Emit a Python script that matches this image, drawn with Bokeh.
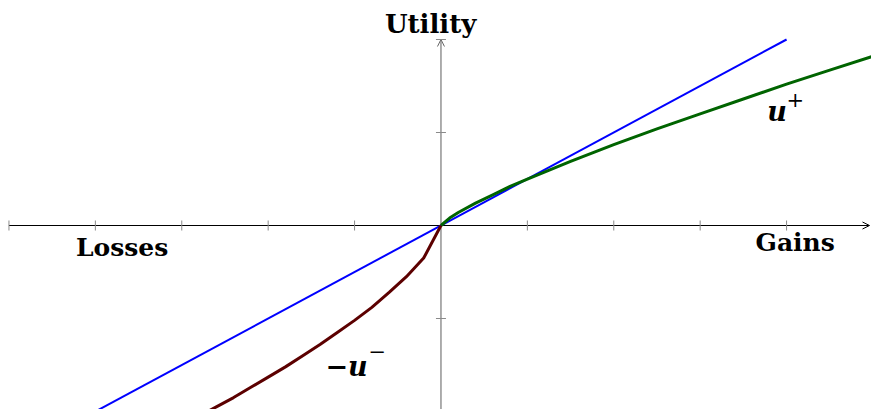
import numpy as np
from bokeh.plotting import figure
from bokeh.models import Range1d, Arrow, OpenHead
from bokeh.core.properties import value
from bokeh.embed import file_html
from bokeh.resources import INLINE

# ---- data ----
x_ticks = [-5, -4, -3, -2, -1, 1, 2, 3, 4]
y_ticks = [-2, -1, 1, 2]

gain_x = [0, 0.1, 0.2, 0.4, 0.6, 0.8, 1.0, 1.5, 2.0, 2.5, 3.0, 3.5, 4.0, 4.5, 5.0]
gain_u = [0, 0.08, 0.14, 0.24, 0.33, 0.42, 0.50, 0.69, 0.87, 1.04, 1.20, 1.36, 1.52, 1.67, 1.82]

loss_x = [-2.8, -2.6, -2.4, -2.2, -2.0, -1.8, -1.6, -1.4, -1.2, -1.0, -0.8, -0.6, -0.4, -0.2, 0]
loss_u = [-2.05, -1.95, -1.85, -1.74, -1.63, -1.52, -1.40, -1.28, -1.15, -1.02, -0.88, -0.72, -0.55, -0.35, 0]

ref_x = [-4, 4]
ref_y = [-2, 2]

axis_labels = ["Utility", "Losses", "Gains"]

FONT = value("DejaVu Serif")

p = figure(width=871, height=409,
           x_range=Range1d(-5.098, 4.983), y_range=Range1d(-1.9784, 2.4194),
           output_backend="svg", toolbar_location=None,
           x_axis_location=None, y_axis_location=None,
           min_border=0)
p.outline_line_color = None
p.grid.grid_line_color = None
p.background_fill_color = "white"

# axes
p.add_layout(Arrow(end=OpenHead(size=7, line_color="black", line_width=1),
                   x_start=-5.0, y_start=0, x_end=4.96, y_end=0,
                   line_color="black", line_width=1.1, level="underlay"))
p.add_layout(Arrow(end=OpenHead(size=7, line_color="#666666", line_width=1),
                   x_start=0, y_start=-2.0, x_end=0, y_end=2.0,
                   line_color="#777777", line_width=1.2, level="underlay"))

# ticks
p.scatter(x_ticks, [0] * len(x_ticks), marker="dash", size=10, angle=np.pi / 2,
          line_color="#8a8a8a", line_width=1)
p.scatter([0] * len(y_ticks), y_ticks, marker="dash", size=10,
          line_color="#8a8a8a", line_width=1)

# curves
p.line(ref_x, ref_y, line_color="#0000ff", line_width=2)
p.line(gain_x, gain_u, line_color="#006400", line_width=3, line_join="round")
p.line(loss_x, loss_u, line_color="#5c0000", line_width=3, line_join="round")

# labels
p.text(x=[-0.12], y=[2.167], text=axis_labels[:1],
       text_font=FONT, text_font_style="bold", text_font_size="26px",
       text_align="center", text_baseline="alphabetic", text_color="black")
p.text(x=[-3.69, 4.10], y=[-0.238, -0.188], text=axis_labels[1:],
       text_font=FONT, text_font_style="bold", text_font_size="25px",
       text_align="center", text_baseline="alphabetic", text_color="black")

# u+
p.text(x=[3.775], y=[1.224], text=["u"], text_font=FONT,
       text_font_style="bold italic", text_font_size="27px",
       text_align="left", text_baseline="alphabetic", text_color="black")
p.text(x=[4.0], y=[1.35], text=["+"], text_font=FONT,
       text_font_style="normal", text_font_size="21px",
       text_align="left", text_baseline="middle", text_color="black")

# -u-
p.text(x=[-1.337], y=[-1.513], text=["\u2212u"], text_font=FONT,
       text_font_style="bold italic", text_font_size="27px",
       text_align="left", text_baseline="alphabetic", text_color="black")
p.text(x=[-0.84], y=[-1.36], text=["\u2212"], text_font=FONT,
       text_font_style="normal", text_font_size="21px",
       text_align="left", text_baseline="middle", text_color="black")

open("out.html", "w").write(file_html(p, INLINE))
